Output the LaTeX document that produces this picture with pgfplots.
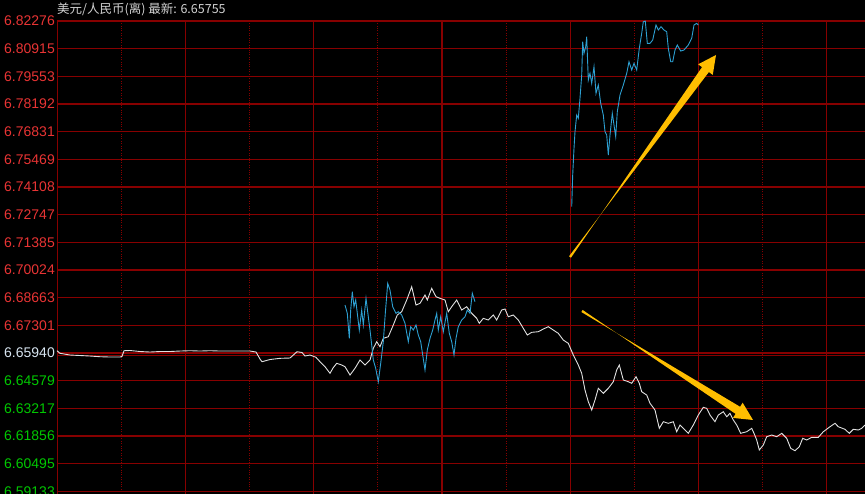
\documentclass[border=0pt]{standalone}
\usepackage{pgfplots}
\pgfplotsset{compat=1.18}
\usepackage{fontspec}
\setmainfont{Liberation Sans}
\newfontfamily\cjk{Noto Sans CJK SC}
\usetikzlibrary{calc}
\definecolor{gridred}{RGB}{135,0,0}
\definecolor{tred}{RGB}{232,52,52}
\definecolor{tgreen}{RGB}{0,200,0}
\definecolor{twhite}{RGB}{215,228,240}
\definecolor{titlegray}{RGB}{210,210,210}
\definecolor{wline}{RGB}{225,225,225}
\definecolor{bline}{RGB}{45,160,210}
\definecolor{arrowc}{RGB}{255,190,0}
\newcommand{\fatarrow}[2]{%
  \coordinate (A) at (#1);
  \coordinate (B) at (#2);
  \coordinate (H) at ($(B)!18pt!(A)$);
  \fill[arrowc] ($(A)!1.2pt!90:(B)$) -- ($(H)!4.2pt!-90:(B)$) -- ($(H)!9pt!-90:(B)$) -- (B)
     -- ($(H)!9pt!90:(B)$) -- ($(H)!4.2pt!90:(B)$) -- ($(A)!1.2pt!-90:(B)$) -- cycle;
}
\begin{document}
\begin{tikzpicture}[x=1pt,y=1pt]
\fill[black] (0,0) rectangle (865,494);
\useasboundingbox (0,0) rectangle (865,494);
\begin{axis}[
  at={(57,0)}, anchor=south west,
  scale only axis, width=808pt, height=473pt,
  xmin=57, xmax=865, ymin=6.59004, ymax=6.82276,
  axis line style={draw=none},
  tick style={draw=none},
  xtick={57.5,185.5,313.5,442,570.5,698.5,826.5},
  minor xtick={121.5,249.5,377.5,506.5,634.5,762.5},
  xticklabels={},
  ytick={6.82276,6.80915,6.79553,6.78192,6.76831,6.75469,6.74108,6.72747,6.71385,6.70024,6.68663,6.67301,6.65940,6.64579,6.63217,6.61856,6.60495,6.59133},
  yticklabels={\textcolor{tred}{6.82276},\textcolor{tred}{6.80915},\textcolor{tred}{6.79553},\textcolor{tred}{6.78192},\textcolor{tred}{6.76831},\textcolor{tred}{6.75469},\textcolor{tred}{6.74108},\textcolor{tred}{6.72747},\textcolor{tred}{6.71385},\textcolor{tred}{6.70024},\textcolor{tred}{6.68663},\textcolor{tred}{6.67301},\textcolor{twhite}{6.65940},\textcolor{tgreen}{6.64579},\textcolor{tgreen}{6.63217},\textcolor{tgreen}{6.61856},\textcolor{tgreen}{6.60495},\textcolor{tgreen}{6.59133}},
  yticklabel style={anchor=east, inner sep=0pt, xshift=-2pt, font=\fontsize{14}{14}\selectfont},
  grid=both,
  major grid style={gridred, line width=1.5pt},
  minor grid style={gridred, dotted, line width=1.2pt},
]
\addplot[gridred, line width=1.3pt] coordinates {(57,6.65827) (865,6.65827)};
\addplot[wline, line width=0.9pt] coordinates {
(57,6.66053) (60,6.65925) (70,6.65842) (80,6.65817) (90,6.65792) (100,6.65758) (110,6.65743) (120,6.65743) (122,6.65768) (124,6.66053)
(130,6.66063) (140,6.66014) (150,6.65989) (160,6.66014) (170,6.66014) (180,6.66038) (190,6.66053) (200,6.66038) (210,6.66053) (220,6.66038)
(230,6.66038) (240,6.66038) (250,6.66038) (256,6.65989) (260,6.65645) (262,6.65512) (270,6.65620) (280,6.65679) (290,6.65694) (297,6.66004)
(302,6.65965) (305,6.65792) (310,6.65842) (316,6.65728) (320,6.65512) (325,6.65266) (330,6.64941) (333,6.65202) (336.7,6.65433) (341.7,6.65350)
(345,6.65266) (350,6.64858) (355,6.65187) (360,6.65596) (365,6.65350) (370,6.65596) (373.3,6.66171) (376.7,6.66496) (380,6.66250) (383.3,6.66663)
(388.3,6.66742) (393.3,6.67318) (397.3,6.67810) (401.7,6.67972) (406.7,6.68548) (411.7,6.69202) (416,6.68302) (420,6.68385) (425,6.68794) (427.3,6.68548)
(431.7,6.69123) (436,6.68710) (440,6.68631) (445,6.68548) (448.3,6.67972) (451.7,6.68218) (456.7,6.68548) (461.7,6.68056) (466.7,6.68218) (471.7,6.67893)
(476.7,6.67647) (479.3,6.67401) (483.3,6.67647) (488.3,6.67564) (493.3,6.67810) (496.7,6.67564) (501.7,6.68056) (505,6.68105) (508.3,6.67726) (513.3,6.67810)
(518.3,6.67564) (523.3,6.67155) (527.3,6.66826) (531.7,6.66958) (538.3,6.66988) (543.3,6.67121) (548.3,6.67234) (553.3,6.67072) (558.3,6.66909) (563.3,6.66580)
(568.3,6.66417) (573.3,6.65842) (578.3,6.65350) (581.7,6.64941) (585,6.64120) (588.3,6.63544) (591.7,6.63136) (595,6.63628) (598.3,6.64203) (603.3,6.63957)
(608.3,6.64203) (613.3,6.64528) (616.7,6.65104) (619.3,6.65350) (623.3,6.64612) (628.3,6.64528) (631.7,6.64449) (636,6.64774) (639.3,6.64449) (641.7,6.64036)
(646.7,6.63874) (650,6.63465) (655,6.63136) (659.3,6.62235) (663.3,6.62560) (668.3,6.62481) (673.3,6.62560) (676.7,6.62068) (680,6.62398) (685,6.62152)
(688.3,6.61989) (693.3,6.62398) (698.3,6.62890) (703.3,6.63268) (706.7,6.63219) (710,6.62890) (715,6.62560) (718.3,6.62890) (723.3,6.63052) (726.7,6.62806)
(730,6.62973) (733.3,6.62644) (736.7,6.62398) (740.7,6.61989) (746.7,6.62068) (751.7,6.62235) (754,6.61989) (756.7,6.61660) (759.3,6.61168) (763.3,6.61414)
(766.7,6.61822) (771.7,6.61906) (776.7,6.61822) (781.7,6.61989) (786.7,6.61743) (790.7,6.61251) (795,6.61133) (799.3,6.61330) (802.7,6.61743) (806.7,6.61660)
(811.7,6.61792) (818.3,6.61792) (823.3,6.62068) (830,6.62314) (835,6.62481) (838.3,6.62314) (845,6.62186) (849.3,6.61989) (853.3,6.62186) (858.3,6.62152)
(861.7,6.62235) (865,6.62398)
};
\addplot[bline, line width=0.9pt] coordinates {
(345,6.68302) (347.3,6.67893) (349.3,6.66663) (350.7,6.68056) (352.3,6.68956) (354,6.68218) (355.7,6.68548) (357.3,6.67893) (359.3,6.67072) (361.7,6.68056)
(363.3,6.67318) (366,6.68631) (368.3,6.67726) (370,6.67072) (371.7,6.66334) (373.3,6.65596) (375.7,6.65187) (378.3,6.64528) (380.7,6.65433) (383.3,6.66496)
(385.3,6.67893) (387.7,6.69369) (390,6.69040) (392.7,6.68218) (396,6.67893) (398.3,6.67972) (401.7,6.67810) (405,6.67401) (408.3,6.66496) (410.7,6.67234)
(413.3,6.67072) (416,6.67318) (418.3,6.66826) (420.7,6.66496) (425,6.65104) (427.3,6.66088) (430,6.66663) (432.7,6.67072) (435,6.67564) (436.7,6.67893)
(438.3,6.67072) (440.7,6.67726) (443.3,6.66988) (446.7,6.67893) (449.3,6.66909) (451.7,6.66496) (454,6.65842) (456,6.66663) (458.3,6.67234) (461.7,6.67564)
(465,6.67726) (467.3,6.68056) (470,6.67893) (472.3,6.68877) (475,6.68464)
};
\addplot[bline, line width=0.9pt] coordinates {
(571.7,6.73138) (572.7,6.74698) (574,6.76011) (575,6.76828) (576.7,6.77650) (578.3,6.77487) (580,6.78471) (581.7,6.79618) (582.7,6.81256) (584,6.80685)
(585.7,6.81010) (586.7,6.81502) (588.3,6.79372) (590,6.79701) (591.7,6.79209) (594,6.80026) (596,6.78717) (598.3,6.79126) (600.7,6.78225) (603.3,6.77650)
(605,6.76828) (606.7,6.76666) (608.3,6.75682) (610,6.76666) (612.3,6.77733) (614,6.77158) (615.7,6.76582) (617.3,6.77812) (620,6.78634) (623.3,6.79126)
(626.7,6.79701) (629,6.80272) (631.7,6.79864) (634,6.80193) (636.7,6.79864) (639.3,6.80931) (641.7,6.81669) (643.3,6.82240) (645.3,6.82270) (647.3,6.81177)
(650,6.81177) (652.7,6.81340) (656,6.82078) (658.3,6.81832) (661,6.81994) (664,6.81832) (666.7,6.81748) (668.3,6.80931) (670.7,6.80272) (672.7,6.80272)
(675,6.80848) (677.3,6.81094) (680.7,6.80798) (684,6.80848) (688.3,6.81094) (691.7,6.81423) (694,6.82078) (696.7,6.82161) (698.3,6.82078)
};
\end{axis}
\node[anchor=west, text=titlegray, inner sep=0pt, font=\cjk\fontsize{12.5}{12.5}\selectfont] at (57,484.5) {美元/人民币(离)\ 最新: 6.65755};
\fatarrow{570,237}{716,439}
\fatarrow{582,183}{753,74}
\end{tikzpicture}
\end{document}
